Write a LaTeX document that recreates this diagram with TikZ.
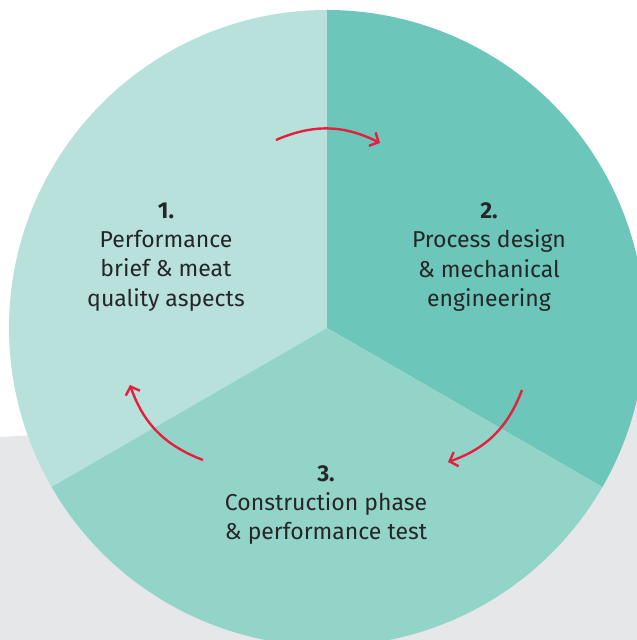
\documentclass[tikz,border=0pt]{standalone}
\usepackage{fontspec}
\setmainfont{Fira Sans}
\usetikzlibrary{arrows.meta}
\definecolor{backgray}{HTML}{E6E7E9}
\definecolor{sectorone}{HTML}{B8E1DC}
\definecolor{sectortwo}{HTML}{6DC6BA}
\definecolor{sectorthree}{HTML}{93D4C9}
\definecolor{arrowred}{HTML}{E5203F}

\begin{document}
\begin{tikzpicture}[x=1pt, y=1pt]
                    \useasboundingbox (0,0) rectangle (637,640);
                    \fill[backgray] (0,0) -- (0,203) -- (637,240) -- (637,0) -- cycle;
                    \coordinate (O) at (327,312);
                    \fill[sectorone] (O) -- ++(90:318) arc[start angle=90, end angle=210, radius=318] -- cycle;
                    \fill[sectortwo] (O) -- ++(-30:318) arc[start angle=-30, end angle=90, radius=318] -- cycle;
                    \fill[sectorthree] (O) -- ++(210:318) arc[start angle=210, end angle=330, radius=318] -- cycle;
                    \node[align=center, font=\fontsize{23}{29.3}\selectfont, text=black!85] (S1) at (166,383) {\textbf{1.}\\Performance\\brief \& meat\\quality aspects};
                    \node[align=center, font=\fontsize{23}{29.3}\selectfont, text=black!85] (S2) at (489,383) {\textbf{2.}\\Process design\\\& mechanical\\engineering};
                    \node[align=center, font=\fontsize{23}{29.3}\selectfont, text=black!85] (S3) at (326,135) {\textbf{3.}\\Construction phase\\\& performance test};
                    \coordinate (A1) at (276,500);
                    \coordinate (B1) at (380,497);
                    \coordinate (A2) at (522,250);
                    \coordinate (B2) at (448,178);
                    \coordinate (A3) at (203,180);
                    \coordinate (B3) at (130,255);
                    \draw[arrowred, line width=2.4pt, -{Straight Barb[length=7pt, width=15pt]}] (A1) to[bend left=25] (B1);
                    \draw[arrowred, line width=2.4pt, -{Straight Barb[length=7pt, width=15pt]}] (A2) to[bend left=25] (B2);
                    \draw[arrowred, line width=2.4pt, -{Straight Barb[length=7pt, width=15pt]}] (A3) to[bend left=25] (B3);
                \end{tikzpicture}
\end{document}
